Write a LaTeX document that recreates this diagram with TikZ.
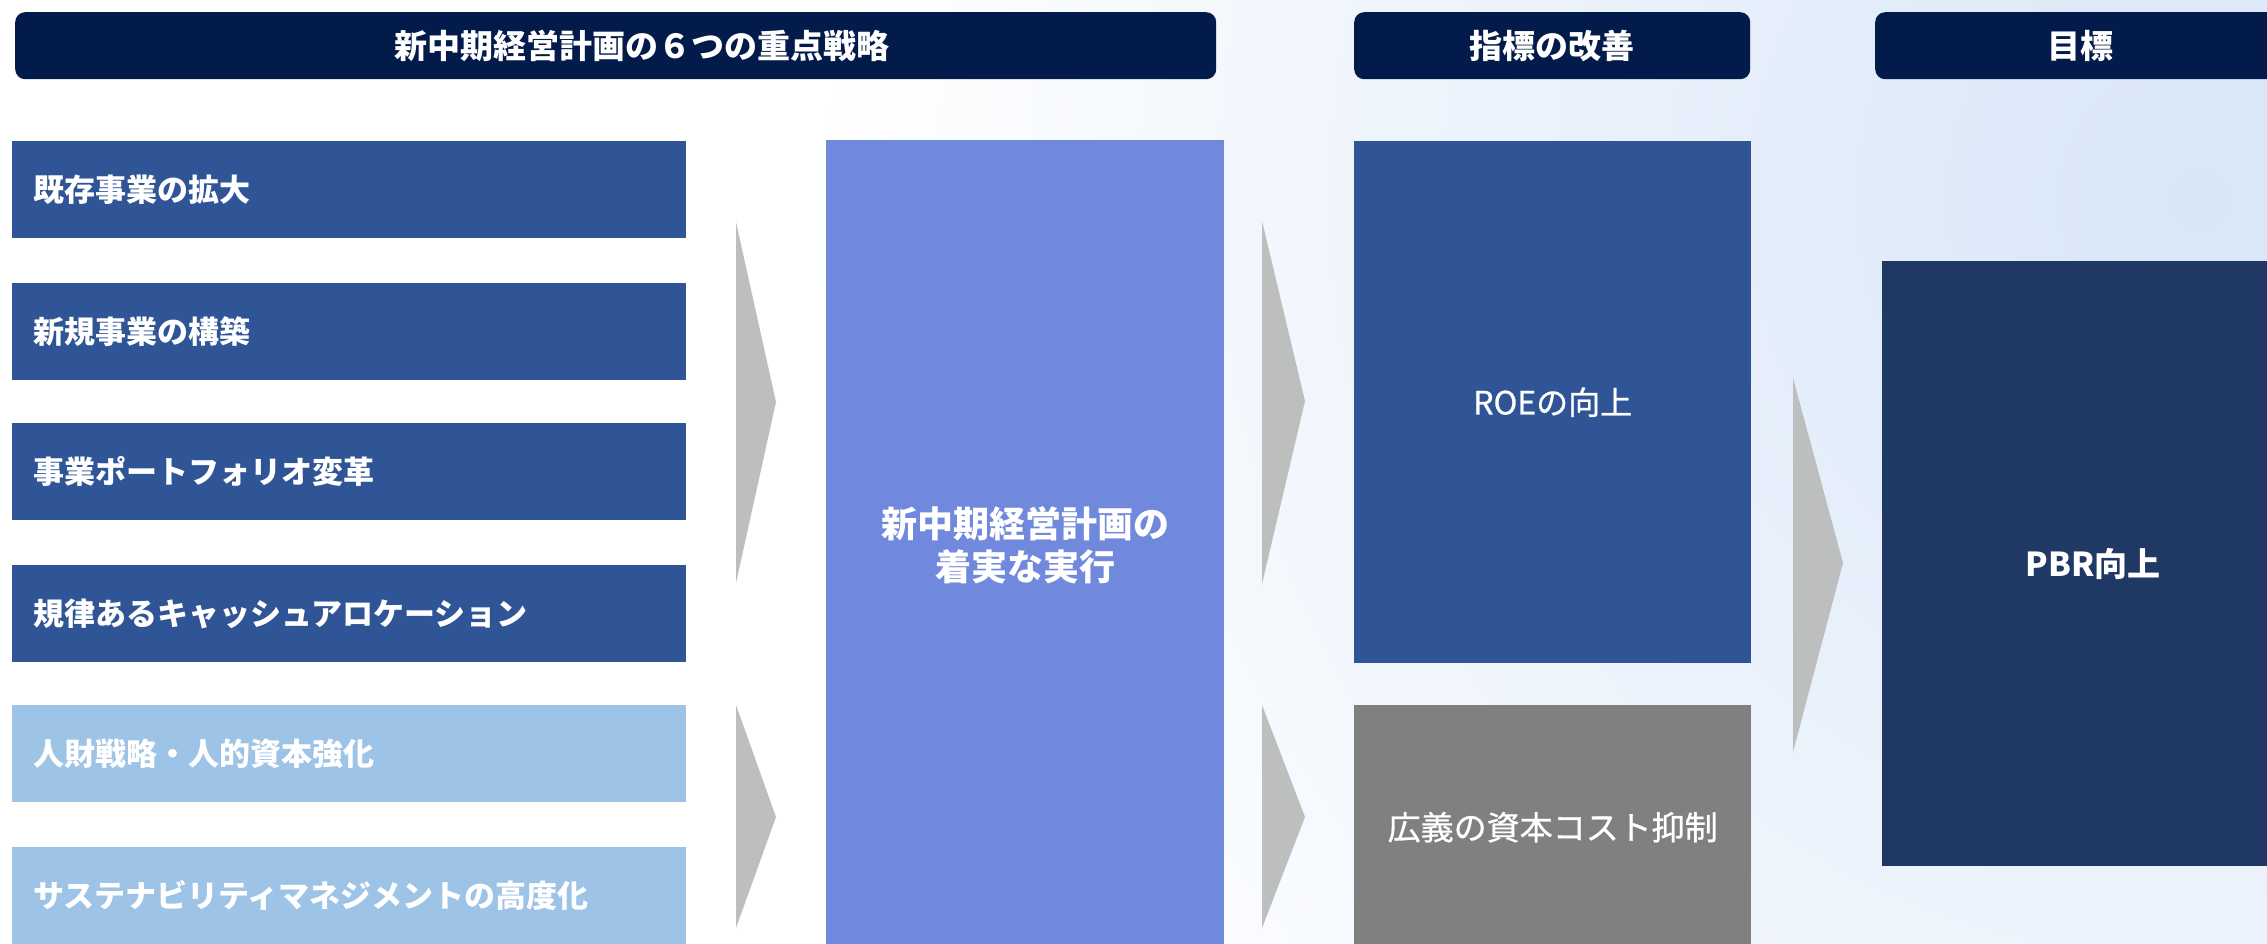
\documentclass[tikz,border=0pt]{standalone}
\usepackage{fontspec}
\setmainfont{Noto Sans CJK JP}
\newfontfamily\jpmid{Noto Sans CJK JP}[FakeBold=0.8]
\definecolor{headnavy}{RGB}{2,27,74}
\definecolor{stratblue}{RGB}{47,85,151}
\definecolor{stratlight}{RGB}{157,195,230}
\definecolor{execblue}{RGB}{112,137,220}
\definecolor{costgray}{RGB}{128,128,128}
\definecolor{pbrnavy}{RGB}{32,56,100}
\definecolor{chevgray}{RGB}{189,190,190}
\definecolor{skyblue}{RGB}{216,230,248}
\begin{document}
\begin{tikzpicture}[x=1pt, y=-1pt,
  head/.style={fill=headnavy, rounded corners=10pt, text=white, inner sep=0pt,
    minimum height=67pt, anchor=north west, font=\fontsize{33}{40}\selectfont\bfseries},
  strat/.style={fill=stratblue, text=white, anchor=north west, minimum width=674pt,
    minimum height=97pt, text width=632pt, inner xsep=21pt, inner ysep=0pt, align=left,
    font=\fontsize{31}{37}\selectfont\bfseries},
  soft/.style={strat, fill=stratlight},
  panel/.style={text=white, inner sep=0pt, anchor=north west, align=center},
  chev/.style={fill=chevgray}]
\useasboundingbox (0,0) rectangle (2267,943);
\begin{scope}
 \clip (0,0) rectangle (2267,943);
 \fill[white] (0,0) rectangle (2267,943);
 \shade[inner color=skyblue, outer color=white] (2200,200) circle (1400pt);
\end{scope}

\node[head, minimum width=1201pt] (h1) at (15,12) {\hspace*{52pt}新中期経営計画の６つの重点戦略};
\node[head, minimum width=396pt] (h2) at (1354,12) {指標の改善};
\node[head, minimum width=410pt] (h3) at (1875,12) {目標};

\node[strat] (s1) at (12,141) {既存事業の拡大};
\node[strat] (s2) at (12,283) {新規事業の構築};
\node[strat] (s3) at (12,423) {事業ポートフォリオ変革};
\node[strat] (s4) at (12,565) {規律あるキャッシュアロケーション};
\node[soft]  (s5) at (12,705) {人財戦略・人的資本強化};
\node[soft]  (s6) at (12,847) {サステナビリティマネジメントの高度化};

\node[panel, fill=execblue, minimum width=398pt, minimum height=810pt,
  font=\fontsize{36}{43}\selectfont\bfseries] (exec) at (826,140) {新中期経営計画の\\着実な実行};
\node[panel, fill=stratblue, minimum width=397pt, minimum height=522pt,
  font=\fontsize{32}{38}\selectfont\jpmid] (roe) at (1354,141) {ROEの向上};
\node[panel, fill=costgray, minimum width=397pt, minimum height=244pt,
  font=\fontsize{33}{40}\selectfont\jpmid] (cost) at (1354,705) {広義の資本コスト抑制};
\node[panel, fill=pbrnavy, minimum width=422pt, minimum height=605pt,
  font=\fontsize{33}{40}\selectfont\bfseries] (pbr) at (1882,261) {PBR向上};

\fill[chev] (736,222) -- (776,402) -- (736,583) -- cycle;
\fill[chev] (736,705) -- (776,817) -- (736,928) -- cycle;
\fill[chev] (1262,221) -- (1305,401) -- (1262,584) -- cycle;
\fill[chev] (1262,705) -- (1305,817) -- (1262,928) -- cycle;
\fill[chev] (1793,378) -- (1843,563) -- (1793,752) -- cycle;
\end{tikzpicture}
\end{document}
